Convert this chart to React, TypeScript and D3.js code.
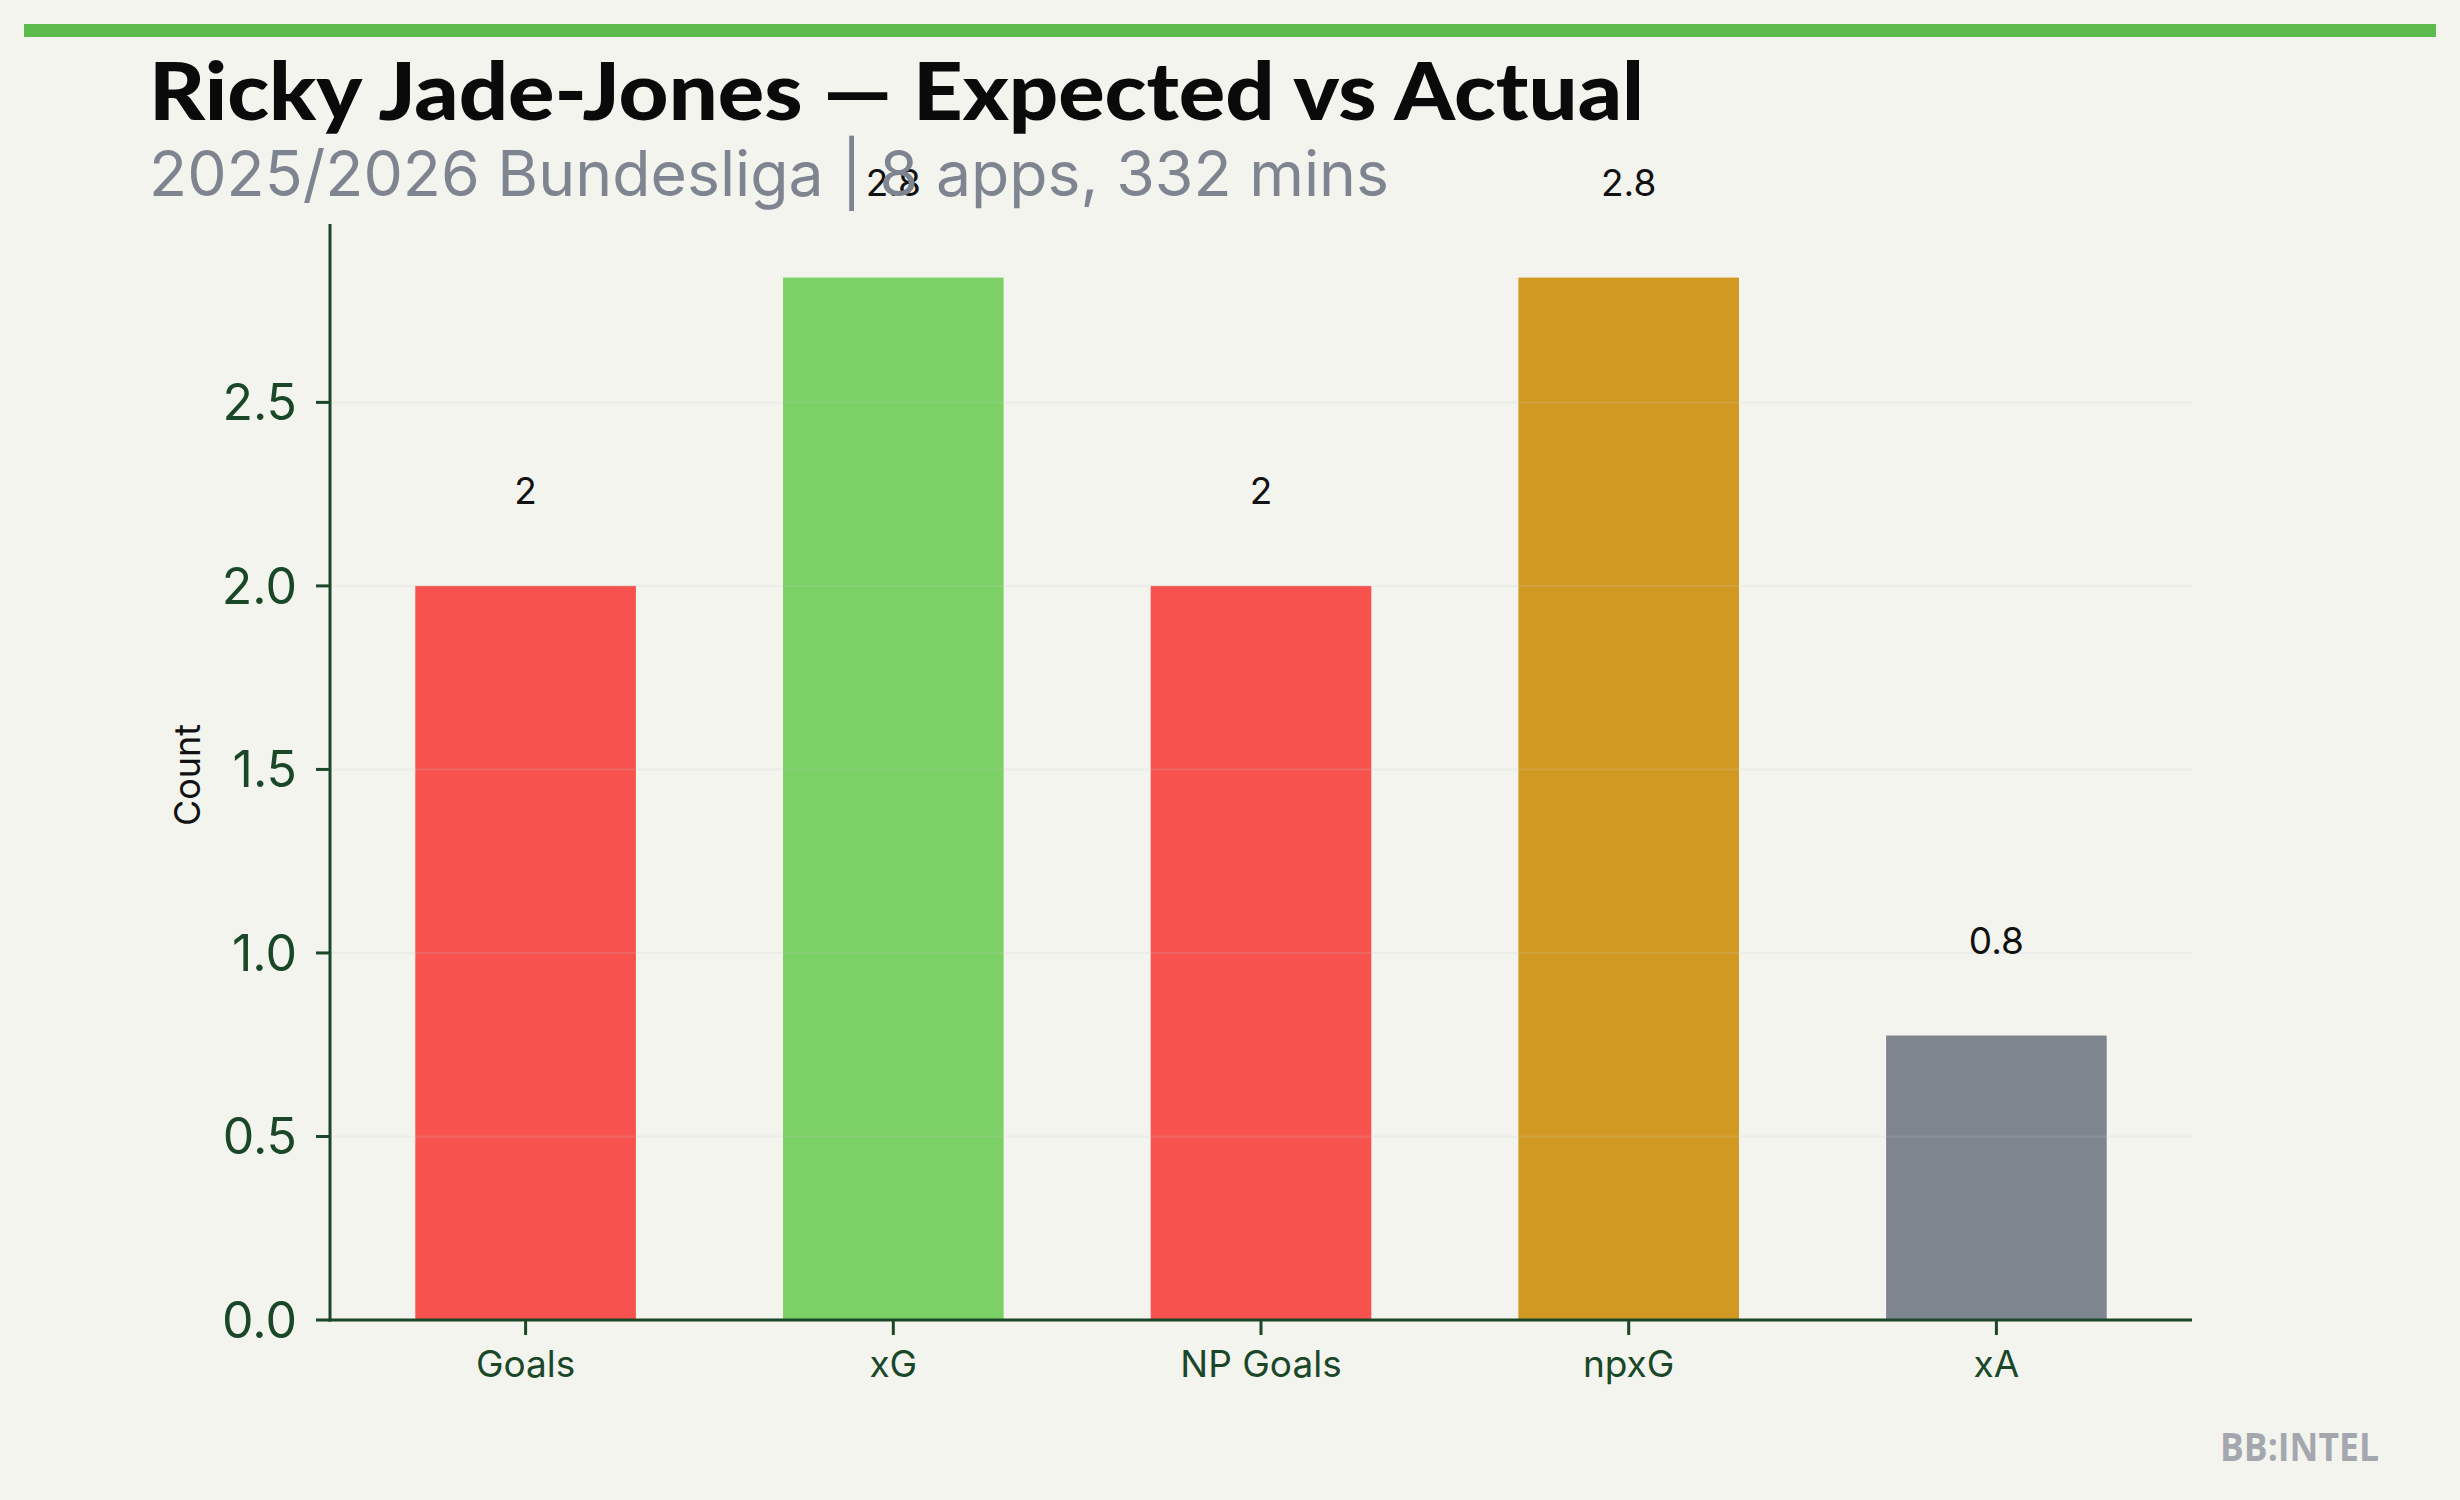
import React from "react";
import * as d3 from "d3";

const categories = ["Goals", "xG", "NP Goals", "npxG", "xA"];
const values = [2, 2.84, 2, 2.84, 0.775];
const valueLabels = ["2", "2.8", "2", "2.8", "0.8"];
const barColors = ["#f8524e", "#7bd166", "#f8524e", "#d29922", "#7f858f"];
const yTicks = [0, 0.5, 1.0, 1.5, 2.0, 2.5];
const gridTicks = [0.5, 1.0, 1.5, 2.0, 2.5];

const W = 2460;
const H = 1500;
const BG = "#f4f4ef";
const AXIS = "#1a4727";
const FONT = "Inter, 'Noto Sans', sans-serif";

export default function App() {
  const x = d3
    .scaleBand<string>()
    .domain(categories)
    .range([330, 2192])
    .paddingInner(0.4)
    .paddingOuter(0.232);
  const y = d3.scaleLinear().domain([0, 2.986]).range([1320, 224]);

  return (
    <svg
      width={W}
      height={H}
      viewBox={`0 0 ${W} ${H}`}
      style={{ position: "absolute", left: 0, top: 0, display: "block" }}
    >
      <rect x={0} y={0} width={W} height={H} fill={BG} />
      <rect x={24} y={24} width={2412} height={13} fill="#5cbb4c" />

      {/* bars */}
      {categories.map((c, i) => (
        <rect
          key={c}
          x={x(c)}
          y={y(values[i])}
          width={x.bandwidth()}
          height={y(0) - y(values[i])}
          fill={barColors[i]}
        />
      ))}

      {/* grid */}
      {gridTicks.map((t) => (
        <line
          key={t}
          x1={330}
          x2={2192}
          y1={y(t)}
          y2={y(t)}
          stroke="#c8c8c8"
          strokeOpacity={0.18}
          strokeWidth={2}
        />
      ))}

      {/* value labels */}
      {categories.map((c, i) => (
        <text
          key={"v" + c}
          x={x(c)! + x.bandwidth() / 2}
          y={y(values[i]) - 82}
          textAnchor="middle"
          fontFamily={FONT}
          fontSize={37}
          fill="#111"
        >
          {valueLabels[i]}
        </text>
      ))}

      {/* y axis */}
      <line x1={330} x2={330} y1={224} y2={1321.5} stroke={AXIS} strokeWidth={3} />
      {yTicks.map((t) => (
        <g key={"yt" + t}>
          <line x1={316} x2={330} y1={y(t)} y2={y(t)} stroke={AXIS} strokeWidth={3} />
          <text
            x={297}
            y={y(t)}
            dy="0.36em"
            textAnchor="end"
            fontFamily={FONT}
            fontSize={50}
            fill={AXIS}
          >
            {t.toFixed(1)}
          </text>
        </g>
      ))}

      {/* x axis */}
      <line x1={328.5} x2={2192} y1={1320} y2={1320} stroke={AXIS} strokeWidth={3} />
      {categories.map((c) => {
        const cx = x(c)! + x.bandwidth() / 2;
        return (
          <g key={"xt" + c}>
            <line x1={cx} x2={cx} y1={1320} y2={1335} stroke={AXIS} strokeWidth={3} />
            <text
              x={cx}
              y={1377}
              textAnchor="middle"
              fontFamily={FONT}
              fontSize={37}
              fill={AXIS}
            >
              {c}
            </text>
          </g>
        );
      })}

      {/* y label */}
      <text
        transform="translate(200,775) rotate(-90)"
        textAnchor="middle"
        fontFamily={FONT}
        fontSize={36}
        fill="#111"
      >
        Count
      </text>

      {/* title */}
      <text
        x={149}
        y={120}
        fontFamily="Lato, 'DejaVu Sans', sans-serif"
        fontWeight={900}
        fontSize={80}
        fill="#0a0a0a"
        textLength={1495}
        lengthAdjust="spacingAndGlyphs"
      >
        Ricky Jade-Jones — Expected vs Actual
      </text>
      <text
        x={149}
        y={196}
        fontFamily={FONT}
        fontSize={63}
        fill="#7f8590"
        textLength={1240}
        lengthAdjust="spacingAndGlyphs"
      >
        2025/2026 Bundesliga | 8 apps, 332 mins
      </text>

      {/* watermark */}
      <text
        x={2220}
        y={1461}
        fontFamily="'Open Sans', 'DejaVu Sans', sans-serif"
        fontWeight={700}
        fontSize={39}
        fill="#a4a8ae"
        textLength={159}
        lengthAdjust="spacingAndGlyphs"
      >
        BB:INTEL
      </text>
    </svg>
  );
}
